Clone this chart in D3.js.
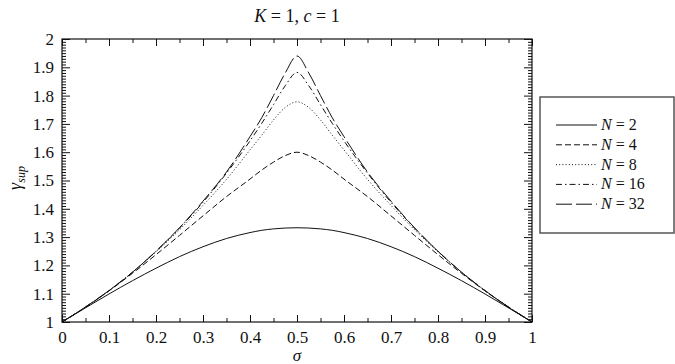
<html>
<head>
  <script src="https://d3js.org/d3.v7.min.js"></script>
  <style>
  body { margin: 0; background: #fff; }
  svg text { font-family: "Liberation Serif", "DejaVu Serif", serif; fill: #111; }
  </style>
</head>
<body>
  <div id="chart"></div>

<script>
var width = 675,
  height = 364;

// values
var sigma = [0, 0.05, 0.1, 0.15, 0.2, 0.25, 0.3, 0.35, 0.4, 0.425, 0.45, 0.475, 0.5,
             0.525, 0.55, 0.575, 0.6, 0.65, 0.7, 0.75, 0.8, 0.85, 0.9, 0.95, 1];

var gN2  = [1, 1.050, 1.099, 1.146, 1.190, 1.231, 1.266, 1.295, 1.316, 1.324, 1.329, 1.332, 1.333,
            1.332, 1.329, 1.324, 1.316, 1.295, 1.266, 1.231, 1.190, 1.146, 1.099, 1.050, 1];
var gN4  = [1, 1.052, 1.110, 1.172, 1.238, 1.306, 1.375, 1.443, 1.505, 1.537, 1.565, 1.588, 1.600,
            1.588, 1.565, 1.537, 1.505, 1.443, 1.375, 1.306, 1.238, 1.172, 1.110, 1.052, 1];
var gN8  = [1, 1.053, 1.111, 1.176, 1.248, 1.326, 1.412, 1.504, 1.608, 1.660, 1.714, 1.758, 1.778,
            1.758, 1.714, 1.660, 1.608, 1.504, 1.412, 1.326, 1.248, 1.176, 1.111, 1.053, 1];
var gN16 = [1, 1.053, 1.111, 1.176, 1.250, 1.332, 1.423, 1.526, 1.640, 1.702, 1.768, 1.835, 1.882,
            1.835, 1.768, 1.702, 1.640, 1.526, 1.423, 1.332, 1.250, 1.176, 1.111, 1.053, 1];
var gN32 = [1, 1.053, 1.111, 1.176, 1.250, 1.333, 1.427, 1.530, 1.655, 1.722, 1.800, 1.880, 1.940,
            1.880, 1.800, 1.722, 1.655, 1.530, 1.427, 1.333, 1.250, 1.176, 1.111, 1.053, 1];

var seriesNames = ["N = 2", "N = 4", "N = 8", "N = 16", "N = 32"];
var seriesValues = [gN2, gN4, gN8, gN16, gN32];
var dashes = ["none", "6,3", "1,2.2", "6,3,1.5,3", "16,4"];

var xTicks = [0, 0.1, 0.2, 0.3, 0.4, 0.5, 0.6, 0.7, 0.8, 0.9, 1];
var xTickLabels = ["0", "0.1", "0.2", "0.3", "0.4", "0.5", "0.6", "0.7", "0.8", "0.9", "1"];
var yTicks = [1, 1.1, 1.2, 1.3, 1.4, 1.5, 1.6, 1.7, 1.8, 1.9, 2];
var yTickLabels = ["1", "1.1", "1.2", "1.3", "1.4", "1.5", "1.6", "1.7", "1.8", "1.9", "2"];

var serif = "'Liberation Serif', 'DejaVu Serif', serif";
var margin = {left: 62, right: 143, top: 39, bottom: 42};
var plotW = width - margin.left - margin.right,
  plotH = height - margin.top - margin.bottom;

var svg = d3.select("#chart").append("svg")
    .attr("width", width)
    .attr("height", height)
    .attr("font-family", serif);

var x = d3.scaleLinear().domain([0, 1]).range([margin.left, margin.left + plotW]);
var y = d3.scaleLinear().domain([1, 2]).range([margin.top + plotH, margin.top]);

var xMinor = d3.range(0.05, 1, 0.1);
var yMinor = d3.range(1, 2.001, 0.01).filter(function(d){ return Math.abs(d*10 - Math.round(d*10)) > 1e-6; });

function styleAxis(g){
  g.attr("font-family", serif);
  g.select(".domain").remove();
  g.selectAll("line").attr("stroke", "#111").attr("stroke-width", 1);
}

// bottom
svg.append("g").attr("transform", "translate(0," + y(1) + ")")
  .call(d3.axisBottom(x).tickValues(xTicks).tickSize(-7).tickSizeOuter(0).tickPadding(9)
    .tickFormat(function(d, i){ return xTickLabels[i]; }))
  .call(styleAxis)
  .selectAll("text").attr("font-size", 17).attr("fill", "#111");
svg.append("g").attr("transform", "translate(0," + y(1) + ")")
  .call(d3.axisBottom(x).tickValues(xMinor).tickSize(-4).tickSizeOuter(0).tickFormat(""))
  .call(styleAxis);
// top
svg.append("g").attr("transform", "translate(0," + y(2) + ")")
  .call(d3.axisTop(x).tickValues(xTicks).tickSize(-7).tickSizeOuter(0).tickFormat(""))
  .call(styleAxis);
svg.append("g").attr("transform", "translate(0," + y(2) + ")")
  .call(d3.axisTop(x).tickValues(xMinor).tickSize(-4).tickSizeOuter(0).tickFormat(""))
  .call(styleAxis);
// left
svg.append("g").attr("transform", "translate(" + x(0) + ",0)")
  .call(d3.axisLeft(y).tickValues(yTicks).tickSize(-8).tickSizeOuter(0).tickPadding(8)
    .tickFormat(function(d, i){ return yTickLabels[i]; }))
  .call(styleAxis)
  .selectAll("text").attr("font-size", 17).attr("fill", "#111");
svg.append("g").attr("transform", "translate(" + x(0) + ",0)")
  .call(d3.axisLeft(y).tickValues(yMinor).tickSize(-4).tickSizeOuter(0).tickFormat(""))
  .call(styleAxis);
// right
svg.append("g").attr("transform", "translate(" + x(1) + ",0)")
  .call(d3.axisRight(y).tickValues(yTicks).tickSize(-8).tickSizeOuter(0).tickFormat(""))
  .call(styleAxis);
svg.append("g").attr("transform", "translate(" + x(1) + ",0)")
  .call(d3.axisRight(y).tickValues(yMinor).tickSize(-4).tickSizeOuter(0).tickFormat(""))
  .call(styleAxis);

svg.append("rect")
  .attr("x", x(0)).attr("y", y(2))
  .attr("width", x(1) - x(0)).attr("height", y(1) - y(2))
  .attr("fill", "none").attr("stroke", "#111").attr("stroke-width", 1.2);

var line = d3.line()
  .x(function(d, i){ return x(sigma[i]); })
  .y(function(d){ return y(d); })
  .curve(d3.curveMonotoneX);

svg.selectAll("path.curve").data(seriesValues).enter().append("path")
  .attr("class", "curve")
  .attr("d", line)
  .attr("fill", "none")
  .attr("stroke", "#111")
  .attr("stroke-width", 1)
  .attr("stroke-dasharray", function(d, i){ return dashes[i]; });

// title
var title = svg.append("text")
  .attr("x", x(0.5)).attr("y", 22)
  .attr("text-anchor", "middle")
  .attr("font-size", 18);
title.append("tspan").attr("font-style", "italic").text("K");
title.append("tspan").text(" = 1, ");
title.append("tspan").attr("font-style", "italic").text("c");
title.append("tspan").text(" = 1");

// axis labels
svg.append("text")
  .attr("x", x(0.5)).attr("y", 361)
  .attr("text-anchor", "middle")
  .attr("font-size", 17)
  .attr("font-style", "italic")
  .text("σ");

var ylab = svg.append("text")
  .attr("transform", "translate(21,178) rotate(-90)")
  .attr("text-anchor", "middle")
  .attr("font-size", 18)
  .attr("font-style", "italic");
ylab.append("tspan").text("γ");
ylab.append("tspan").attr("font-size", 12).attr("dy", 4).text("sup");

// legend
var legend = svg.append("g");
legend.append("rect")
  .attr("x", 540).attr("y", 97)
  .attr("width", 134).attr("height", 136)
  .attr("fill", "#fff").attr("stroke", "#555").attr("stroke-width", 1.5);

var rows = legend.selectAll("g.row").data(seriesNames).enter().append("g")
  .attr("class", "row")
  .attr("transform", function(d, i){ return "translate(0," + (125 + i * 19.8) + ")"; });
rows.append("line")
  .attr("x1", 556).attr("x2", 597)
  .attr("stroke", "#111").attr("stroke-width", 1)
  .attr("stroke-dasharray", function(d, i){ return dashes[i]; });
rows.append("text")
  .attr("x", 601).attr("y", 5)
  .attr("font-size", 16)
  .each(function(d){
    var parts = d.split(" = ");
    var t = d3.select(this);
    t.append("tspan").attr("font-style", "italic").text(parts[0]);
    t.append("tspan").text(" = " + parts[1]);
  });
</script>

</body></html>
